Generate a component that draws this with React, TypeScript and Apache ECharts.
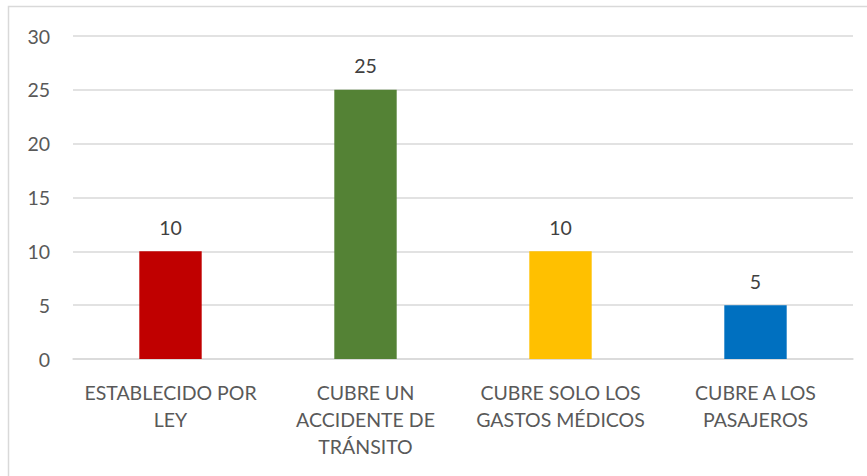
import React, { useEffect, useRef } from "react";
import * as echarts from "echarts";

const categories = [
  "ESTABLECIDO POR\nLEY",
  "CUBRE UN\nACCIDENTE DE\nTRÁNSITO",
  "CUBRE SOLO LOS\nGASTOS MÉDICOS",
  "CUBRE A LOS\nPASAJEROS",
];
const values = [10, 25, 10, 5];
const barColors = ["#C00000", "#548235", "#FFC000", "#0070C0"];
const yTicks = { min: 0, max: 30, interval: 5 };

export default function App() {
  const ref = useRef<HTMLDivElement>(null);
  useEffect(() => {
    if (!ref.current) return;
    const chart = echarts.init(ref.current, undefined, { renderer: "svg" });
    const font = "Lato, 'Open Sans', sans-serif";
    chart.setOption({
      animation: false,
      backgroundColor: "#ffffff",
      graphic: [
        {
          type: "rect",
          shape: { x: 8.5, y: 6.5, width: 900, height: 500 },
          style: { fill: "none", stroke: "#d9d9d9", lineWidth: 1.5 },
          silent: true,
        },
      ],
      grid: { left: 73, right: 14, top: 36, bottom: 117, containLabel: false },
      xAxis: {
        type: "category",
        data: categories,
        axisLine: { show: true, lineStyle: { color: "#d9d9d9", width: 1.5 } },
        axisTick: { show: false },
        axisLabel: {
          color: "#595959",
          fontFamily: font,
          fontSize: 19.5,
          lineHeight: 27,
          margin: 20,
          interval: 0,
        },
      },
      yAxis: {
        type: "value",
        min: yTicks.min,
        max: yTicks.max,
        interval: yTicks.interval,
        axisLine: { show: false },
        axisTick: { show: false },
        splitLine: { lineStyle: { color: "#d9d9d9", width: 1.5 } },
        axisLabel: {
          color: "#595959",
          fontFamily: font,
          fontSize: 19.5,
          margin: 23,
        },
      },
      series: [
        {
          type: "bar",
          barWidth: "32%",
          data: values.map((v, i) => ({ value: v, itemStyle: { color: barColors[i] } })),
          label: {
            show: true,
            position: "top",
            distance: 14,
            color: "#404040",
            fontFamily: font,
            fontSize: 19.5,
          },
        },
      ],
    });
    return () => chart.dispose();
  }, []);
  return (
    <div
      ref={ref}
      style={{ position: "absolute", left: 0, top: 0, width: 867, height: 476 }}
    />
  );
}
